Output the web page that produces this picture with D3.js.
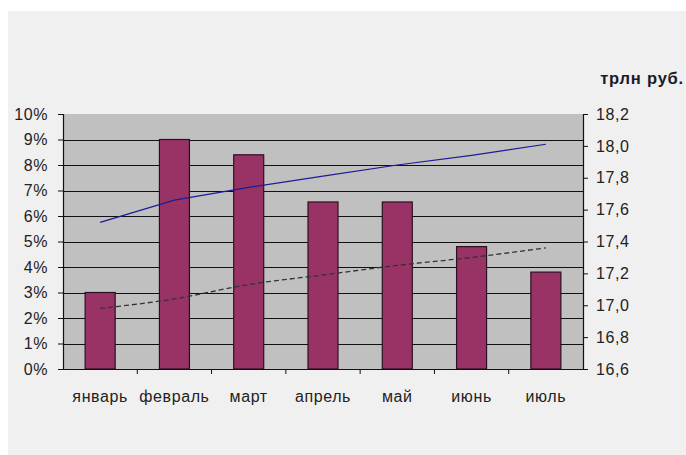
<!DOCTYPE html>
<html><head><meta charset="utf-8">
<script src="https://cdn.jsdelivr.net/npm/d3@7"></script>
<style>body{margin:0;background:#fff;}svg{display:block;font-family:"Liberation Sans",Arial,sans-serif;}</style>
</head><body><svg id="c" width="686" height="455"></svg>
<script>
const categories = ["январь","февраль","март","апрель","май","июнь","июль"];
const growthPct = [3.0, 9.0, 8.4, 6.55, 6.55, 4.8, 3.8];
const volumeTrln = [17.52, 17.66, 17.74, 17.81, 17.88, 17.94, 18.01];
const trendTrln = [16.98, 17.04, 17.13, 17.19, 17.25, 17.30, 17.36];
const leftTicks = [0,1,2,3,4,5,6,7,8,9,10];
const rightTicks = [16.6,16.8,17.0,17.2,17.4,17.6,17.8,18.0,18.2];
const rightUnit = "трлн руб.";

const svg = d3.select("#c");
svg.append("rect").attr("x",8).attr("y",11).attr("width",678).attr("height",444).attr("fill","#f0f0f0");

const L=63, R=583, T=114, B=369;
svg.append("rect").attr("x",L).attr("y",T).attr("width",R-L).attr("height",B-T).attr("fill","#c0c0c0");

const xb = d3.scaleBand().domain(categories).range([L,R]);
const yL = d3.scaleLinear().domain([0,10]).range([B,T]);
const yR = d3.scaleLinear().domain([16.6,18.2]).range([B,T]);

// gridlines
svg.append("g").selectAll("line").data(leftTicks.slice(1,-1)).join("line")
  .attr("x1",L).attr("x2",R).attr("y1",d=>Math.round(yL(d))+0.5).attr("y2",d=>Math.round(yL(d))+0.5)
  .attr("stroke","#111").attr("stroke-width",1);

// bars
svg.append("g").selectAll("rect").data(growthPct).join("rect")
  .attr("x",(d,i)=>xb(categories[i])+xb.bandwidth()/2-15)
  .attr("width",30)
  .attr("y",d=>yL(d)).attr("height",d=>B-yL(d))
  .attr("fill","#993366").attr("stroke","#2a1020").attr("stroke-width",1.2);

const cx = i => xb(categories[i])+xb.bandwidth()/2;
svg.append("path").datum(volumeTrln)
  .attr("d",d3.line().x((d,i)=>cx(i)).y(d=>yR(d)))
  .attr("fill","none").attr("stroke","#1c1c96").attr("stroke-width",1.2);
svg.append("path").datum(trendTrln)
  .attr("d",d3.line().x((d,i)=>cx(i)).y(d=>yR(d)).curve(d3.curveMonotoneX))
  .attr("fill","none").attr("stroke","#333").attr("stroke-width",1.3).attr("stroke-dasharray","5,3");

// axes
const fmtL = d=>d+"%";
const gl = svg.append("g").attr("transform",`translate(${L},0)`)
  .call(d3.axisLeft(yL).tickValues(leftTicks).tickFormat(fmtL).tickSize(5).tickPadding(10));
const gr = svg.append("g").attr("transform",`translate(${R},0)`)
  .call(d3.axisRight(yR).tickValues(rightTicks).tickFormat(d=>d3.format(".1f")(d).replace(".",",")).tickSize(5).tickPadding(8));
const gb = svg.append("g").attr("transform",`translate(0,${B})`)
  .call(d3.axisBottom(xb).tickSize(0).tickPadding(22));
// category separator ticks
svg.append("g").selectAll("line").data(categories.slice(1)).join("line")
  .attr("x1",d=>xb(d)).attr("x2",d=>xb(d)).attr("y1",B).attr("y2",B+5)
  .attr("stroke","#111");
[gl,gr,gb].forEach(g=>{
  g.selectAll("path").attr("stroke","#111").attr("stroke-width",1.2);
  g.selectAll("line").attr("stroke","#111");
  g.selectAll("text").attr("font-family","Liberation Sans, Arial, sans-serif").attr("font-size",16)
    .attr("letter-spacing","0.6px").attr("fill","#222");
});
gb.select(".domain").attr("d",`M${L},0.5H${R}`);

svg.append("text").attr("x",684).attr("y",84).attr("text-anchor","end")
  .attr("font-weight","bold").attr("font-size",16.5).attr("letter-spacing","0.8px")
  .attr("fill","#1a1a2a").text(rightUnit);
</script></body></html>
